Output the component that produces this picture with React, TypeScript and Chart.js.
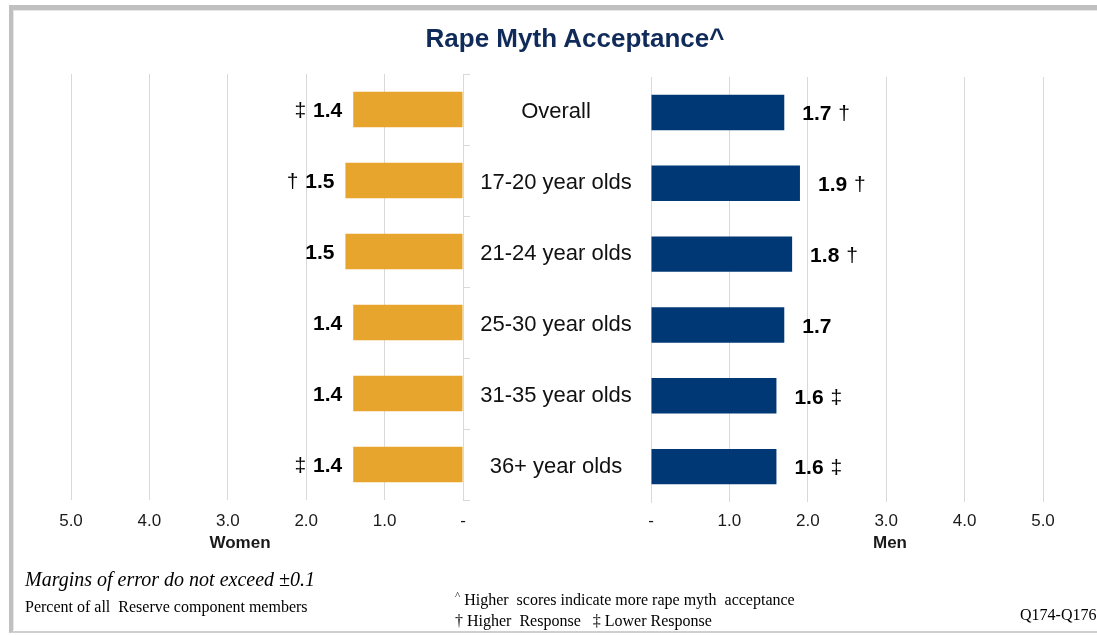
import React, { useEffect, useRef } from "react";
import { Chart, registerables } from "chart.js";

Chart.register(...registerables);

// ---------------- Data ----------------
const categories = [
  "Overall",
  "17-20 year olds",
  "21-24 year olds",
  "25-30 year olds",
  "31-35 year olds",
  "36+ year olds",
];
const womenValues = [1.4, 1.5, 1.5, 1.4, 1.4, 1.4];
const menValues = [1.7, 1.9, 1.8, 1.7, 1.6, 1.6];
const womenMarks = ["‡", "†", "", "", "", "‡"];
const menMarks = ["†", "†", "†", "", "‡", "‡"];
const axisMin = 0;
const axisMax = 5;
const tickLabel = (v: number) => (v === 0 ? "-" : v.toFixed(1));

const title = "Rape Myth Acceptance^";
const womenTitle = "Women";
const menTitle = "Men";
const noteMargin = "Margins of error do not exceed ±0.1";
const notePercent = "Percent of all  Reserve component members";
const noteHigher = "Higher  scores indicate more rape myth  acceptance";
const noteLegend = "† Higher  Response   ‡ Lower Response";
const noteQ = "Q174-Q176";

// ---------------- Styles ----------------
const SANS = "'Liberation Sans', Arial, Helvetica, sans-serif";
const SERIF = "'Liberation Serif', 'Times New Roman', serif";
const W = 1097;
const H = 635;
const ORANGE = "#E8A52D";
const NAVY = "#003876";
const GRID = "#d9d9d9";

const valueLabelPlugin = (marks: string[], side: "left" | "right") => ({
  id: "valueLabels",
  afterDatasetsDraw(chart: any) {
    const ctx = chart.ctx;
    const meta = chart.getDatasetMeta(0);
    const values = chart.data.datasets[0].data as number[];
    ctx.save();
    ctx.fillStyle = "#000";
    ctx.textBaseline = "middle";
    meta.data.forEach((bar: any, i: number) => {
      const { x, y } = bar.getProps(["x", "y"], true);
      const num = values[i].toFixed(1);
      ctx.font = `bold 21px ${SANS}`;
      const w = ctx.measureText(num).width;
      const ty = y + 2;
      if (side === "left") {
        const nx = x - 11;
        ctx.textAlign = "right";
        ctx.fillText(num, nx, ty);
        if (marks[i]) {
          ctx.font = `21px ${SANS}`;
          ctx.fillText(marks[i] + " ", nx - w - 1, ty);
        }
      } else {
        const nx = x + 18;
        ctx.textAlign = "left";
        ctx.fillText(num, nx, ty);
        if (marks[i]) {
          ctx.font = `21px ${SANS}`;
          ctx.fillText(" " + marks[i], nx + w + 1, ty);
        }
      }
    });
    ctx.restore();
  },
});

const categoryLabelPlugin = {
  id: "categoryLabels",
  afterDraw(chart: any) {
    const ctx = chart.ctx;
    const yScale = chart.scales.y;
    const cx = chart.chartArea.right + 93;
    ctx.save();
    ctx.fillStyle = "#111";
    ctx.font = `22px ${SANS}`;
    ctx.textAlign = "center";
    ctx.textBaseline = "middle";
    categories.forEach((c, i) => {
      ctx.fillText(c, cx, yScale.getPixelForValue(i) + 2);
    });
    ctx.restore();
  },
};

function makeConfig(
  values: number[],
  color: string,
  reverse: boolean,
  padding: any,
  tickPad: number,
  plugins: any[]
): any {
  return {
    type: "bar",
    data: {
      labels: categories,
      datasets: [
        {
          data: values,
          backgroundColor: color,
          borderWidth: 0,
          barPercentage: 0.5,
          categoryPercentage: 1,
        },
      ],
    },
    options: {
      indexAxis: "y",
      responsive: false,
      animation: false,
      devicePixelRatio: 1,
      layout: { padding },
      plugins: {
        legend: { display: false },
        tooltip: { enabled: false },
        title: { display: false },
      },
      scales: {
        x: {
          min: axisMin,
          max: axisMax,
          reverse,
          grid: { color: GRID, drawTicks: false, lineWidth: 1 },
          border: { display: false },
          ticks: {
            stepSize: 1,
            padding: tickPad,
            color: "#1a1a1a",
            font: { size: 17, family: SANS },
            callback: (v: any) => tickLabel(Number(v)),
          },
        },
        y: reverse
          ? {
              position: "right",
              grid: {
                drawOnChartArea: false,
                drawTicks: true,
                tickLength: 7,
                color: GRID,
                offset: true,
              },
              border: { display: true, color: GRID },
              ticks: { display: false },
            }
          : {
              position: "left",
              grid: { drawOnChartArea: false, drawTicks: false, color: GRID },
              border: { display: true, color: GRID },
              ticks: { display: false },
            },
      },
    },
    plugins,
  };
}

function Txt(props: {
  x: number;
  baseline: number;
  size: number;
  family: string;
  bold?: boolean;
  italic?: boolean;
  color?: string;
  align?: "left" | "center";
  children: React.ReactNode;
}) {
  const { x, baseline, size, family, bold, italic, color, align, children } = props;
  const ratio = family === SERIF ? 0.8375 : 0.8465;
  return (
    <div
      style={{
        position: "absolute",
        left: x,
        top: baseline - ratio * size,
        fontSize: size,
        lineHeight: 1,
        fontFamily: family,
        fontWeight: bold ? "bold" : "normal",
        fontStyle: italic ? "italic" : "normal",
        color: color || "#000",
        whiteSpace: "pre",
        transform: align === "center" ? "translateX(-50%)" : undefined,
      }}
    >
      {children}
    </div>
  );
}

export default function App() {
  const leftRef = useRef<HTMLCanvasElement>(null);
  const rightRef = useRef<HTMLCanvasElement>(null);

  useEffect(() => {
    const left = new Chart(
      leftRef.current as HTMLCanvasElement,
      makeConfig(
        womenValues,
        ORANGE,
        true,
        { left: 71, right: 627, top: 74, bottom: 92.6 },
        11,
        [valueLabelPlugin(womenMarks, "left"), categoryLabelPlugin]
      )
    );
    const right = new Chart(
      rightRef.current as HTMLCanvasElement,
      makeConfig(
        menValues,
        NAVY,
        false,
        { left: 651, right: 54, top: 77, bottom: 94.6 },
        9,
        [valueLabelPlugin(menMarks, "right")]
      )
    );
    return () => {
      left.destroy();
      right.destroy();
    };
  }, []);

  return (
    <div
      style={{
        position: "absolute",
        left: 0,
        top: 0,
        width: W,
        height: H,
        overflow: "hidden",
        background: "#fff",
      }}
    >
      <div
        style={{
          position: "absolute",
          left: 9,
          top: 5,
          width: W - 9,
          height: 628,
          boxSizing: "border-box",
          borderTop: "5px solid #c0c0c0",
          borderLeft: "4px solid #c0c0c0",
          borderBottom: "2px solid #cfcfcf",
        }}
      />
      <div
        style={{
          position: "absolute",
          left: 13,
          top: 10,
          width: W - 13,
          height: 620,
          boxSizing: "border-box",
          borderTop: "1px solid #e6e6e6",
          borderLeft: "1px solid #e6e6e6",
        }}
      />
      <canvas
        ref={leftRef}
        width={W}
        height={H}
        style={{ position: "absolute", left: 0, top: 0, width: W, height: H }}
      />
      <canvas
        ref={rightRef}
        width={W}
        height={H}
        style={{ position: "absolute", left: 0, top: 0, width: W, height: H }}
      />
      <Txt x={575} baseline={47} size={26} family={SANS} bold color="#102b5a" align="center">
        {title}
      </Txt>
      <Txt x={240} baseline={548} size={17} family={SANS} bold color="#1a1a1a" align="center">
        {womenTitle}
      </Txt>
      <Txt x={890} baseline={548} size={17} family={SANS} bold color="#1a1a1a" align="center">
        {menTitle}
      </Txt>
      <Txt x={25} baseline={586} size={20} family={SERIF} italic>
        {noteMargin}
      </Txt>
      <Txt x={25} baseline={612} size={16} family={SERIF}>
        {notePercent}
      </Txt>
      <Txt x={455} baseline={605} size={16} family={SERIF}>
        <span style={{ fontSize: 11, position: "relative", top: -6 }}>^</span>
        {" " + noteHigher}
      </Txt>
      <Txt x={455} baseline={626} size={16} family={SERIF}>
        {noteLegend}
      </Txt>
      <Txt x={1020} baseline={620} size={16} family={SERIF}>
        {noteQ}
      </Txt>
    </div>
  );
}
